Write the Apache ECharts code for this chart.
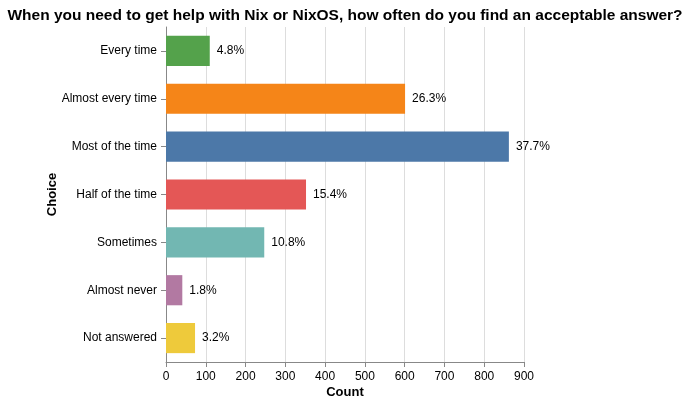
<!DOCTYPE html>
<html>
<head>
<meta charset="utf-8">
<script src="https://cdn.jsdelivr.net/npm/echarts@6/dist/echarts.min.js"></script>
<style>html,body{margin:0;padding:0;background:#fff}#c{width:690px;height:404px}</style>
</head>
<body>
<div id="c"></div>
<script>
const categories = ["Every time", "Almost every time", "Most of the time", "Half of the time", "Sometimes", "Almost never", "Not answered"];
const counts = [110, 601, 862, 352, 247, 41, 73];
const colors = ["#54a24b", "#f58518", "#4c78a8", "#e45756", "#72b7b2", "#b279a2", "#eeca3b"];
const xTicks = { min: 0, max: 900, interval: 100 };
const titleText = "When you need to get help with Nix or NixOS, how often do you find an acceptable answer?";

const total = counts.reduce((a, b) => a + b, 0);
const font = "Liberation Sans, Arial, sans-serif";
const chart = echarts.init(document.getElementById('c'), null, { renderer: 'canvas' });
chart.setOption({
  animation: false,
  textStyle: { fontFamily: font },
  title: {
    text: titleText, left: 'center', top: 3,
    textStyle: { fontFamily: font, fontSize: 15.5, fontWeight: 'bold', color: '#000' }
  },
  grid: { left: 166, right: 166, top: 27, bottom: 42, containLabel: false, outerBoundsMode: 'none' },
  xAxis: {
    type: 'value', min: xTicks.min, max: xTicks.max, interval: xTicks.interval,
    name: 'Count', nameLocation: 'middle', nameGap: 24, nameMoveOverlap: false,
    nameTextStyle: { fontFamily: font, fontSize: 13, fontWeight: 'bold', color: '#000' },
    axisLine: { show: true, lineStyle: { color: '#888', width: 1 } },
    axisTick: { show: true, length: 5, lineStyle: { color: '#888' } },
    axisLabel: { fontFamily: font, fontSize: 12, color: '#000', margin: 9 },
    splitLine: { show: true, lineStyle: { color: '#ddd', width: 1 } }
  },
  yAxis: {
    type: 'category', data: categories, inverse: true,
    name: 'Choice', nameLocation: 'middle', nameGap: 107, nameRotate: 90, nameMoveOverlap: false,
    nameTextStyle: { fontFamily: font, fontSize: 13, fontWeight: 'bold', color: '#000' },
    axisLine: { show: true, lineStyle: { color: '#888', width: 1 } },
    axisTick: { show: true, length: 5, alignWithLabel: true, lineStyle: { color: '#888' } },
    axisLabel: { fontFamily: font, fontSize: 12, color: '#000', margin: 9 },
    splitLine: { show: false }
  },
  series: [{
    type: 'bar',
    data: counts.map((v, i) => ({ value: v, itemStyle: { color: colors[i] } })),
    barCategoryGap: '37%',
    label: {
      show: true, position: 'right', distance: 7,
      fontFamily: font, fontSize: 12, color: '#000',
      formatter: p => (p.value / total * 100).toFixed(1) + '%'
    }
  }]
});
</script>
</body>
</html>
